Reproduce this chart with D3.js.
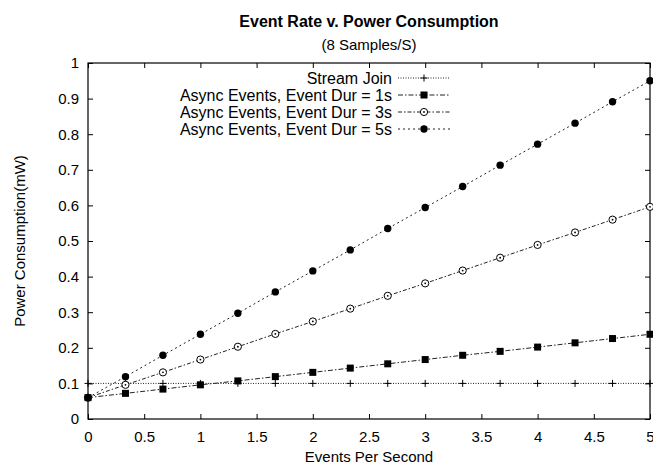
<!DOCTYPE html>
<html>
<head>
<meta charset="utf-8">
<script src="https://cdn.jsdelivr.net/npm/d3@7"></script>
<style>
  body { margin: 0; background: #fff; }
  text { font-family: "Liberation Sans", Arial, sans-serif; }
</style>
</head>
<body>
<div id="chart"></div>
<script>
// data
var rates = [0, 1/3, 2/3, 1, 4/3, 5/3, 2, 7/3, 8/3, 3, 10/3, 11/3, 4, 13/3, 14/3, 5];
var streamJoin = [0.1, 0.1, 0.1, 0.1, 0.1, 0.1, 0.1, 0.1, 0.1, 0.1, 0.1, 0.1, 0.1, 0.1, 0.1, 0.1];
var dur1 = [0.06, 0.072, 0.084, 0.096, 0.107, 0.119, 0.131, 0.143, 0.155, 0.167, 0.179, 0.19, 0.202, 0.214, 0.226, 0.238];
var dur3 = [0.06, 0.096, 0.131, 0.167, 0.203, 0.239, 0.274, 0.31, 0.346, 0.381, 0.417, 0.453, 0.489, 0.524, 0.56, 0.596];
var dur5 = [0.06, 0.119, 0.179, 0.238, 0.297, 0.357, 0.416, 0.475, 0.535, 0.594, 0.653, 0.713, 0.772, 0.831, 0.891, 0.95];
var seriesNames = ["Stream Join", "Async Events, Event Dur = 1s", "Async Events, Event Dur = 3s", "Async Events, Event Dur = 5s"];
var xTicks = [0, 0.5, 1, 1.5, 2, 2.5, 3, 3.5, 4, 4.5, 5];
var yTicks = [0, 0.1, 0.2, 0.3, 0.4, 0.5, 0.6, 0.7, 0.8, 0.9, 1];

var width = 653;
var height = 467;
var margin = { left: 88, right: 3, top: 63, bottom: 48 };
var w = width - margin.left - margin.right;
var h = height - margin.top - margin.bottom;

var svg = d3.select('#chart')
    .append('svg')
    .attr('width', width)
    .attr('height', height);

var g = svg.append('g')
    .attr("transform", "translate(" + margin.left + "," + margin.top + ")");

var x = d3.scaleLinear().domain([0, 5]).range([0, w]);
var y = d3.scaleLinear().domain([0, 1]).range([h, 0]);

// gnuplot style: ticks inside, mirrored on all sides
var tickLen = 5;
g.append("g")
    .attr("transform", "translate(0," + h + ")")
    .call(d3.axisBottom(x).tickValues(xTicks).tickSize(-tickLen).tickPadding(12)
        .tickFormat(d3.format("")));
g.append("g")
    .call(d3.axisTop(x).tickValues(xTicks).tickSize(-tickLen).tickFormat(""));
g.append("g")
    .call(d3.axisLeft(y).tickValues(yTicks).tickSize(-tickLen).tickPadding(9)
        .tickFormat(d3.format("")));
g.append("g")
    .attr("transform", "translate(" + w + ",0)")
    .call(d3.axisRight(y).tickValues(yTicks).tickSize(-tickLen).tickFormat(""));

g.selectAll(".domain").remove();
g.selectAll(".tick line").attr("stroke", "#000");
g.selectAll(".tick text")
    .attr("fill", "#000")
    .style("font-size", "15px");

g.append("rect")
    .attr("width", w)
    .attr("height", h)
    .attr("fill", "none")
    .attr("stroke", "#000")
    .attr("stroke-width", 1.2);

// series
var series = [
    { name: seriesNames[0], vals: streamJoin, dash: "1,1.5", mark: "plus" },
    { name: seriesNames[1], vals: dur1, dash: "5,2,1.5,2", mark: "square" },
    { name: seriesNames[2], vals: dur3, dash: "4,2,1.5,2", mark: "ocircle" },
    { name: seriesNames[3], vals: dur5, dash: "2,3", mark: "circle" }
];

var line = d3.line()
    .x(d => x(d.x))
    .y(d => y(d.y));

function drawMark(sel, type) {
    if (type == "plus") {
        sel.append("path")
            .attr("d", "M-3.5,0H3.5M0,-3.5V3.5")
            .attr("stroke", "#000")
            .attr("stroke-width", 1);
    } else if (type == "square") {
        sel.append("rect")
            .attr("x", -3.5).attr("y", -3.5)
            .attr("width", 7).attr("height", 7)
            .attr("fill", "#000");
    } else if (type == "ocircle") {
        sel.append("circle").attr("r", 3.6)
            .attr("fill", "#fff").attr("stroke", "#000").attr("stroke-width", 1);
        sel.append("circle").attr("r", 0.9).attr("fill", "#000");
    } else {
        sel.append("circle").attr("r", 3.7).attr("fill", "#000");
    }
}

series.forEach(function (s) {
    var pts = rates.map(function (r, i) { return { x: r, y: s.vals[i] }; });
    g.append("path")
        .datum(pts)
        .attr("d", line)
        .attr("fill", "none")
        .attr("stroke", "#222")
        .attr("stroke-width", 1)
        .attr("stroke-dasharray", s.dash);
    g.selectAll(null)
        .data(pts)
        .enter()
        .append("g")
        .attr("transform", d => "translate(" + x(d.x) + "," + y(d.y) + ")")
        .each(function () { drawMark(d3.select(this), s.mark); });
});

// legend
var legend = svg.append("g");
series.forEach(function (s, i) {
    var ly = 78 + i * 17;
    legend.append("text")
        .attr("x", 392)
        .attr("y", ly + 5.5)
        .attr("text-anchor", "end")
        .style("font-size", "16px")
        .text(s.name);
    legend.append("line")
        .attr("x1", 398).attr("x2", 450)
        .attr("y1", ly).attr("y2", ly)
        .attr("stroke", "#222")
        .attr("stroke-dasharray", s.dash);
    var m = legend.append("g").attr("transform", "translate(424," + ly + ")");
    drawMark(m, s.mark);
});

// titles
svg.append("text")
    .attr("x", margin.left + w / 2)
    .attr("y", 27)
    .attr("text-anchor", "middle")
    .style("font-size", "16px")
    .style("font-weight", "bold")
    .text("Event Rate v. Power Consumption");
svg.append("text")
    .attr("x", margin.left + w / 2)
    .attr("y", 50)
    .attr("text-anchor", "middle")
    .style("font-size", "15px")
    .text("(8 Samples/S)");
svg.append("text")
    .attr("x", margin.left + w / 2)
    .attr("y", 462)
    .attr("text-anchor", "middle")
    .style("font-size", "15px")
    .text("Events Per Second");
svg.append("text")
    .attr("transform", "translate(25," + (margin.top + h / 2) + ") rotate(-90)")
    .attr("text-anchor", "middle")
    .style("font-size", "15px")
    .text("Power Consumption(mW)");
</script>
</body>
</html>
